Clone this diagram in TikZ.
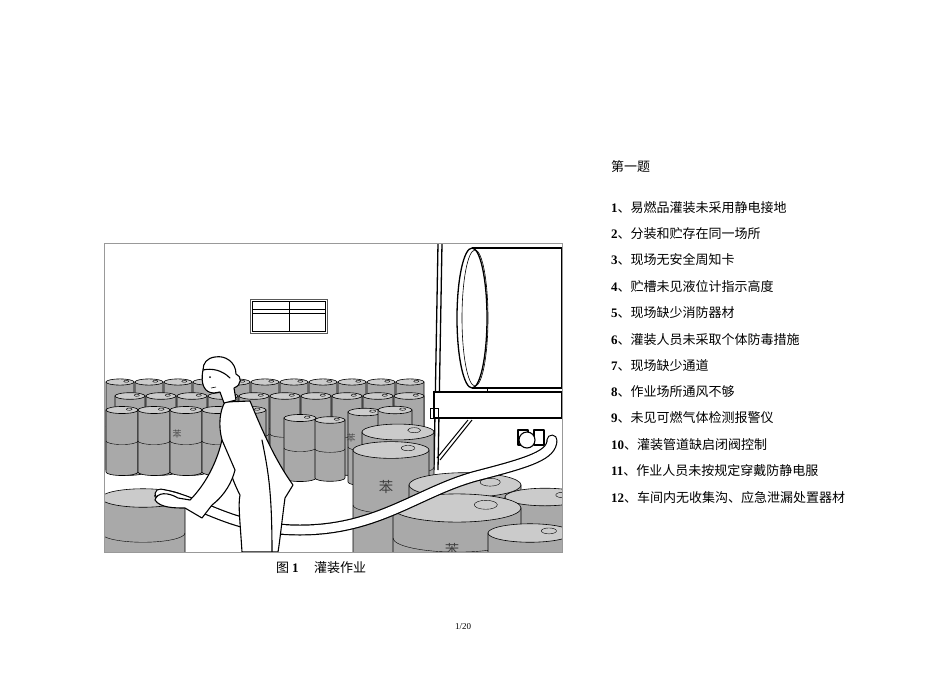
\documentclass[tikz,border=0pt]{standalone}
\usepackage{fontspec}
\setmainfont{Liberation Serif}
\newfontfamily\cjk{Noto Sans CJK SC}
\definecolor{bbody}{HTML}{A9A9A9}
\definecolor{btop}{HTML}{CBCBCB}
\newcommand\brl[4]{%
\filldraw[fill=bbody,line width=0.6pt] ({#1-#3},#2) -- ({#1-#3},{#2+#4}) arc[start angle=180,end angle=0,x radius=#3,y radius={#3*0.22}] -- ({#1+#3},#2) -- cycle;
\draw[line width=0.4pt] ({#1-#3},{#2+#4*0.5}) arc[start angle=180,end angle=0,x radius=#3,y radius={#3*0.22}];
\filldraw[fill=btop,line width=0.6pt] (#1,#2) ellipse[x radius=#3,y radius={#3*0.22}];
\draw[line width=0.4pt] ({#1+#3*0.45},{#2-#3*0.05}) ellipse[x radius={#3*0.18},y radius={#3*0.07}];}
\begin{document}
\begin{tikzpicture}[x=1pt,y=-1pt,
 txt/.style={anchor=west,inner sep=0pt,font=\fontsize{13pt}{15pt}\selectfont},
 ink/.style={line width=1.1pt,line join=round,line cap=round}]
\useasboundingbox (0,0) rectangle (950,672);
\fill[white] (0,0) rectangle (950,672);
\begin{scope}
\clip (104,243) rectangle (562,552);
% window
\draw[line width=1pt,gray!70!black] (250,299) rectangle (327,333);
\draw[line width=0.8pt] (252,301) rectangle (325,331) (289,301)--(289,331) (252,309)--(325,309) (252,313)--(325,313);
% back barrels
\foreach \i in {0,...,10} {\brl{120+29*\i}{382}{14}{88}}
\foreach \i in {0,...,9} {\brl{130+31*\i}{396}{15}{76}}
\foreach \i in {0,...,4} {\brl{122+32*\i}{410}{16}{62}}
\brl{300}{418}{16}{60}
\brl{330}{420}{15}{58}
\brl{365}{412}{17}{70}
\brl{395}{410}{17}{70}
\node[font=\cjk\small,text=black!70] at (177,434) {苯};
\node[font=\cjk\small,text=black!70] at (351,438) {苯};
% tank structure
\draw[line width=1.3pt] (438,243)--(434,470) (442,243)--(438,470);
\filldraw[fill=white,line width=1.3pt] (472,248) -- (562,248) -- (562,388) -- (472,388);
\filldraw[fill=white,line width=1.3pt] (472,318) ellipse[x radius=15,y radius=70];
\draw[line width=0.6pt] (475,318) ellipse[x radius=13,y radius=68];
\filldraw[fill=white,line width=1.3pt] (434,392) rectangle (562,418);
\draw[line width=1pt] (487,388)--(487,392);
\draw[line width=1pt] (468,420)--(437,458) (472,420)--(440,460);
\draw[line width=0.8pt] (430,408) rectangle (438,418);
% front barrels
\brl{398}{432}{36}{70}
\brl{391}{450}{38}{110}
\node[font=\cjk\Large,text=black!75] at (386,487) {苯};
\brl{465}{485}{56}{70}
\brl{545}{497}{40}{70}
\brl{457}{508}{64}{60}
\node[font=\cjk\Large,text=black!75] at (452,550) {苯};
\brl{530}{533}{42}{40}
\brl{143}{498}{42}{70}
% hose outlet
\draw[ink,fill=white] (518,430) rectangle (528,445) (534,430) rectangle (544,445);
\filldraw[ink,fill=white] (527,440) circle (8);
% hose
\draw[line width=11pt,line cap=round] (160,494) .. controls (200,500) and (230,530) .. (300,530) .. controls (380,530) and (420,490) .. (480,475) .. controls (530,462) and (552,455) .. (552,440);
\draw[line width=8.6pt,white,line cap=round] (160,494) .. controls (200,500) and (230,530) .. (300,530) .. controls (380,530) and (420,490) .. (480,475) .. controls (530,462) and (552,455) .. (552,440);
% person
\filldraw[ink,fill=white] (225,402) -- (250,401) .. controls (262,430) and (275,460) .. (293,485) -- (285,498) .. controls (282,520) and (280,540) .. (278,552) -- (242,552) .. controls (240,520) and (238,505) .. (240,495) .. controls (232,480) and (226,460) .. (222,440) .. controls (218,425) and (220,410) .. (225,402) -- cycle;
\draw[ink] (262,440) .. controls (268,470) and (272,490) .. (272,552);
\filldraw[ink,fill=white] (222,440) .. controls (215,470) and (200,490) .. (190,500) -- (178,498) .. controls (168,492) and (157,492) .. (155,500) .. controls (160,508) and (175,508) .. (185,508) -- (202,518) -- (212,505) .. controls (225,495) and (232,482) .. (235,470) -- cycle;
\filldraw[ink,fill=white] (203,370) .. controls (200,385) and (205,393) .. (214,393) -- (220,392) -- (224,403) -- (236,400) -- (234,388) .. controls (242,385) and (242,376) .. (236,374) .. controls (236,362) and (225,355) .. (215,357) .. controls (207,358) and (203,363) .. (203,370) -- cycle;
\draw[ink] (203,370) .. controls (212,368) and (222,370) .. (230,378);
\fill (210,377) circle (1);
\draw[line width=0.6pt] (211,388) -- (216,387);
\end{scope}
\draw[line width=0.8pt,black!40] (104,243) rectangle (562,552);
\node[txt] at (276,568) {\cjk 图 \textbf{\rmfamily 1}\hspace{1.2em}灌装作业};
\node[font=\fontsize{9pt}{10pt}\selectfont] at (463,627) {1/20};
\node[txt] at (611,167) {\cjk 第一题};
\foreach \y/\n/\t in {208/1/易燃品灌装未采用静电接地,234/2/分装和贮存在同一场所,260/3/现场无安全周知卡,287/4/贮槽未见液位计指示高度,313/5/现场缺少消防器材,340/6/灌装人员未采取个体防毒措施,366/7/现场缺少通道,392/8/作业场所通风不够,418/9/未见可燃气体检测报警仪,445/10/灌装管道缺启闭阀控制,471/11/作业人员未按规定穿戴防静电服,498/12/车间内无收集沟、应急泄漏处置器材}
 \node[txt] at (611,\y) {\textbf{\n}\cjk 、\t};
\end{tikzpicture}
\end{document}
